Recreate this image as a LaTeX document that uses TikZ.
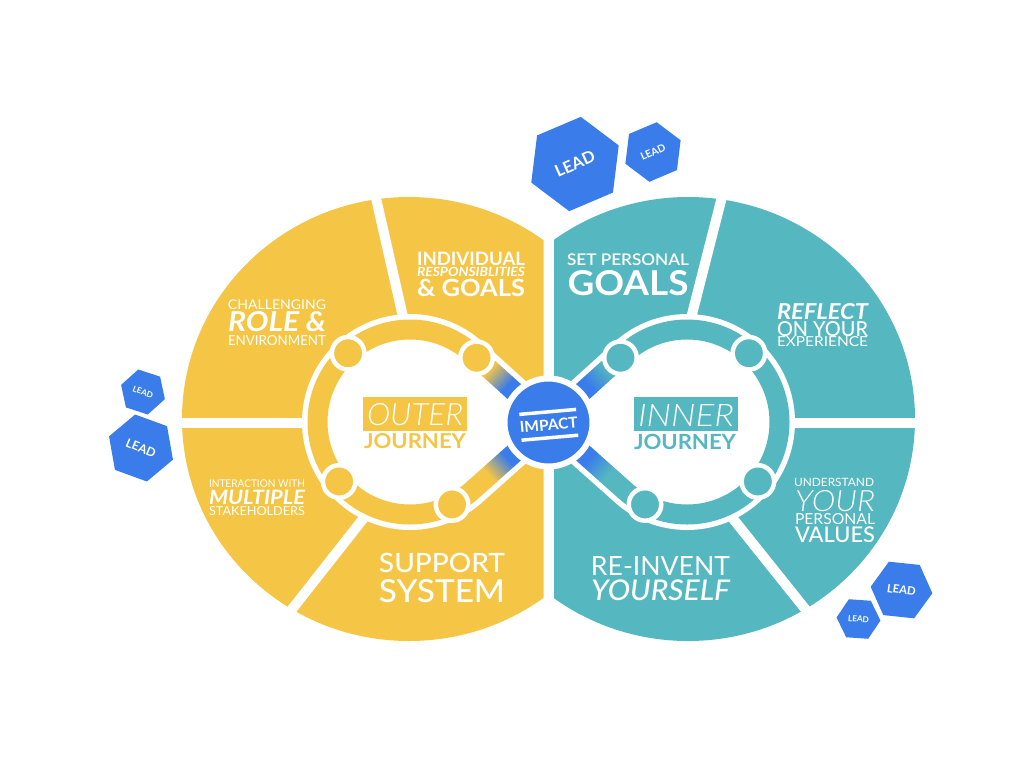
\documentclass[tikz,border=0pt]{standalone}
\usepackage{fontspec}
\usepackage{graphicx}
\setmainfont{Lato}
\IfFontExistsTF{Lato Light Italic}{\newfontfamily\lightit{Lato Light Italic}}{\newcommand\lightit{\itshape}}
\IfFontExistsTF{Lato Medium}{\newfontfamily\medf{Lato Medium}}{\newcommand\medf{\normalfont}}
\IfFontExistsTF{Lato Medium Italic}{\newfontfamily\medit{Lato Medium Italic}}{\newcommand\medit{\itshape}}
\IfFontExistsTF{Lato Semibold}{\newfontfamily\semif{Lato Semibold}}{\newcommand\semif{\bfseries}}
\usetikzlibrary{calc,shapes.geometric}
\definecolor{ycol}{HTML}{F5C546}
\definecolor{tcol}{HTML}{55B7BF}
\definecolor{bcol}{HTML}{3A7DEA}
\newcommand{\fitw}[2]{\resizebox{#1pt}{!}{#2}}
\newcommand{\fitwh}[3]{\resizebox{#1pt}{#2pt}{#3}}
\newcommand{\gradband}[3]{%
  \begin{scope}[transform canvas={shift={(#1)}, rotate=#2}]
    \fill[#3] (-0.3pt,-10pt) rectangle (24pt,10pt);
    \shade[left color=#3, right color=bcol] (23.5pt,-10pt) rectangle (48pt,10pt);
    \fill[bcol] (47.5pt,-10pt) rectangle (104pt,10pt);
  \end{scope}}
\newcommand{\hexagonat}[3]{%
  \fill[bcol] ($(#1)+(#3:#2pt)$) -- ($(#1)+(#3+60:#2pt)$) -- ($(#1)+(#3+120:#2pt)$)
   -- ($(#1)+(#3+180:#2pt)$) -- ($(#1)+(#3+240:#2pt)$) -- ($(#1)+(#3+300:#2pt)$) -- cycle;}
\tikzset{
  txt/.style={inner sep=0pt, outer sep=0pt, anchor=base, text=white},
  divider/.style={white, line width=10pt},
  ringdot/.style={circle, fill=#1, draw=white, line width=4.5pt, minimum size=32.5pt, inner sep=0pt},
  leadtxt/.style={inner sep=0pt, outer sep=0pt, anchor=center, text=white},
}
\begin{document}
\begin{tikzpicture}[x=1pt,y=-1pt]
\useasboundingbox (0,0) rectangle (1024,768);
\fill[white] (0,0) rectangle (1024,768);

\coordinate (yc) at (410,422);
\coordinate (tc) at (687,422);
\coordinate (imp) at (548.5,422.5);

% outer halves
\begin{scope}
  \clip (0,0) rectangle (543.5,768);
  \fill[ycol] (409,419) ellipse [x radius=227pt, y radius=222pt];
\end{scope}
\begin{scope}
  \clip (554,0) rectangle (1024,768);
  \fill[tcol] (688,419) ellipse [x radius=227pt, y radius=222pt];
\end{scope}

% segment dividers
\draw[divider] (373,185) -- (406,330);
\draw[divider] (160,422.5) -- (320,422.5);
\draw[divider] (374,505) -- (252,660);
\draw[divider] (725,185) -- (688,330);
\draw[divider] (777,422.5) -- (940,422.5);
\draw[divider] (722,505) -- (846,660);

% tangent points
\coordinate (yT1) at ($(yc)+(48:92.5pt)$);
\coordinate (yT2) at ($(yc)+(312:92.5pt)$);
\coordinate (tT1) at ($(tc)+(132:92.5pt)$);
\coordinate (tT2) at ($(tc)+(228:92.5pt)$);

% white teardrops
\filldraw[white, line width=31pt, line join=round] (imp) -- (yT1) arc[start angle=48, end angle=312, radius=92.5pt] -- cycle;
\filldraw[white, line width=31pt, line join=round] (imp) -- (tT2) arc[start angle=228, end angle=492, radius=92.5pt] -- cycle;

% ring bands
\draw[ycol, line width=20pt] (yT1) arc[start angle=48, end angle=312, radius=92.5pt];
\draw[tcol, line width=20pt] (tT2) arc[start angle=228, end angle=492, radius=92.5pt];

% straight gradient bands
\gradband{yT1}{-42.1}{ycol}
\gradband{yT2}{41.7}{ycol}
\gradband{tT1}{-137.9}{tcol}
\gradband{tT2}{138.3}{tcol}

% impact circle
\node[circle, fill=bcol, draw=white, line width=6pt, minimum size=88pt, inner sep=0pt] (impc) at (imp) {};
\node[fill=white, minimum width=57pt, minimum height=3.5pt, inner sep=0pt, rotate=5] (ibar1) at (547.7,411.9) {};
\node[fill=white, minimum width=57pt, minimum height=3.5pt, inner sep=0pt, rotate=5] (ibar2) at (549.9,437.7) {};
\node[leadtxt, rotate=5] (itext) at (548.8,424.8) {\fitwh{58}{11}{\bfseries IMPACT}};

% ring dots
\node[ringdot=ycol] (yd1) at ($(yc)+(132:92.5pt)$) {};
\node[ringdot=ycol] (yd2) at ($(yc)+(220:92.5pt)$) {};
\node[ringdot=ycol] (yd3) at ($(yc)+(44:92.5pt)$) {};
\node[ringdot=ycol] (yd4) at ($(yc)+(-63:92.5pt)$) {};
\node[ringdot=tcol] (td1) at ($(tc)+(136:92.5pt)$) {};
\node[ringdot=tcol] (td2) at ($(tc)+(48:92.5pt)$) {};
\node[ringdot=tcol] (td3) at ($(tc)+(-40:92.5pt)$) {};
\node[ringdot=tcol] (td4) at ($(tc)+(243:92.5pt)$) {};

% centre labels
\node[fill=ycol, minimum width=104pt, minimum height=34pt, inner sep=0pt] (obox) at (415,414) {};
\node[txt] (otx) at (415,425.5) {\fitwh{96}{22}{\lightit OUTER}};
\node[txt, text=ycol] (ojr) at (415,448.3) {\fitwh{102}{15}{\bfseries JOURNEY}};
\node[fill=tcol, minimum width=104pt, minimum height=34pt, inner sep=0pt] (ibox) at (686,414) {};
\node[txt] (itx) at (686,426) {\fitwh{96}{22}{\lightit INNER}};
\node[txt, text=tcol] (ijr) at (685,449.3) {\fitwh{102}{15.3}{\bfseries JOURNEY}};

% yellow segment texts
\node[txt] (t1) at (471,265) {\fitwh{108}{13.3}{\bfseries INDIVIDUAL}};
\node[txt] (t2) at (471,276.7) {\fitwh{108}{9.3}{\bfseries\itshape RESPONSIBLITIES}};
\node[txt] (t3) at (471,296.7) {\fitwh{108}{17.3}{\bfseries \& GOALS}};
\node[txt] (t4) at (277,309) {\fitwh{98}{9.7}{CHALLENGING}};
\node[txt] (t5) at (277,331.7) {\fitwh{98}{20}{\bfseries\itshape ROLE \&}};
\node[txt] (t6) at (277,345.7) {\fitwh{98}{10}{ENVIRONMENT}};
\node[txt] (t7) at (257,487.7) {\fitwh{96}{7.7}{INTERACTION WITH}};
\node[txt] (t8) at (257,504.3) {\fitwh{96}{14.3}{\bfseries\itshape MULTIPLE}};
\node[txt] (t9) at (257,515.7) {\fitwh{96}{9}{STAKEHOLDERS}};
\node[txt] (t10) at (442,572.7) {\fitwh{126}{19.3}{\medf SUPPORT}};
\node[txt] (t11) at (442,602.3) {\fitwh{126}{23}{\medf SYSTEM}};

% teal segment texts
\node[txt] (s1) at (628,265.7) {\fitwh{122}{11.7}{\semif SET PERSONAL}};
\node[txt] (s2) at (628,295) {\fitwh{121}{25}{\bfseries GOALS}};
\node[txt] (s3) at (822.5,319.3) {\fitwh{91}{16}{\bfseries\itshape REFLECT}};
\node[txt] (s4) at (822.5,336) {\fitwh{91}{15}{\medf ON YOUR}};
\node[txt] (s5) at (822.5,346.7) {\fitwh{91}{10}{EXPERIENCE}};
\node[txt] (s6) at (834,486.7) {\fitwh{80}{8.3}{UNDERSTAND}};
\node[txt] (s7) at (835,511) {\fitwh{80}{21}{\lightit YOUR}};
\node[txt] (s8) at (835,524.3) {\fitwh{80}{11}{PERSONAL}};
\node[txt] (s9) at (835,542.3) {\fitwh{80}{15.7}{\medf VALUES}};
\node[txt] (s10) at (660.5,575.7) {\fitwh{139}{19}{RE-INVENT}};
\node[txt] (s11) at (660.5,600.7) {\fitwh{139}{20.7}{\medit YOURSELF}};

% LEAD hexagons
\coordinate (h1) at (575,164);
\coordinate (h2) at (653,152);
\coordinate (h3) at (143,392);
\coordinate (h4) at (141,448);
\coordinate (h5) at (901.5,590);
\coordinate (h6) at (858.5,619);
\hexagonat{h1}{47.5}{23}
\hexagonat{h2}{30}{23}
\hexagonat{h3}{23}{-18}
\hexagonat{h4}{34}{-20}
\hexagonat{h5}{31}{-6}
\hexagonat{h6}{22}{-4}
\node[leadtxt, rotate=24] (l1) at (h1) {\fitw{42}{\bfseries LEAD}};
\node[leadtxt, rotate=24] (l2) at (h2) {\fitw{26}{\bfseries LEAD}};
\node[leadtxt, rotate=-20] (l3) at (h3) {\fitw{21}{\bfseries LEAD}};
\node[leadtxt, rotate=-22] (l4) at (h4) {\fitw{31}{\bfseries LEAD}};
\node[leadtxt, rotate=-8] (l5) at (h5) {\fitw{29}{\bfseries LEAD}};
\node[leadtxt, rotate=-5] (l6) at (h6) {\fitw{21}{\bfseries LEAD}};
\end{tikzpicture}
\end{document}
